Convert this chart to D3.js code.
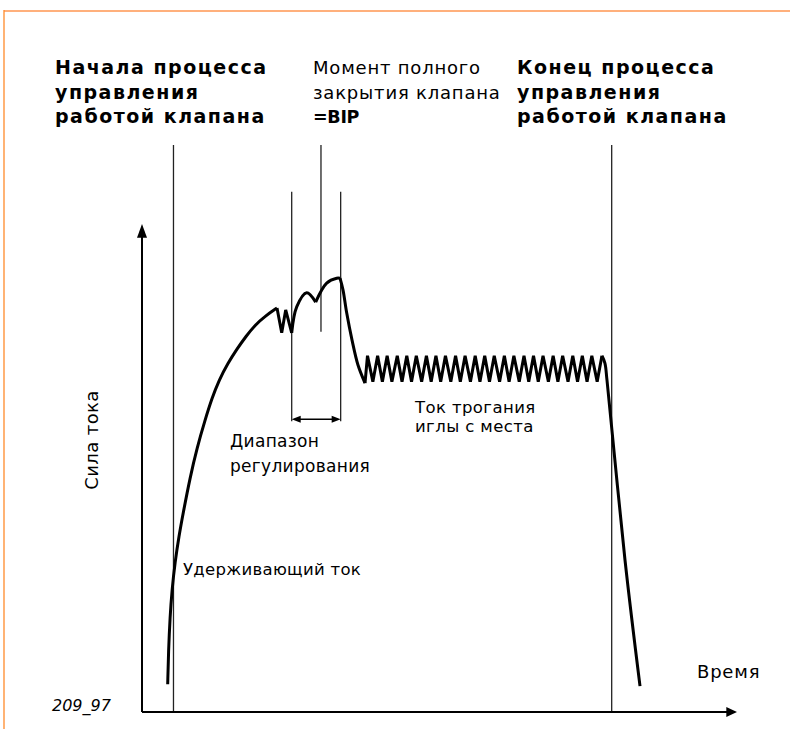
<!DOCTYPE html>
<html>
<head>
<meta charset="utf-8">
<script src="https://cdn.jsdelivr.net/npm/d3@7"></script>
<style>
  html, body { margin: 0; padding: 0; background: #fff; }
  svg { display: block; }
  .bold { font-family: "DejaVu Sans", sans-serif; font-weight: bold; }
  .reg { font-family: "DejaVu Sans", sans-serif; font-weight: normal; }
</style>
</head>
<body>
<svg id="chart" width="790" height="729"></svg>
<script>
// Injector valve current profile: time (relative units) vs. coil current (relative units)

// Pull-in ramp
const riseTime    = [4.32, 4.45, 4.71, 5.04, 5.55, 6.22, 6.89, 8.07, 9.24, 10.59, 11.76, 12.94, 14.45, 15.97, 17.48, 19.0, 20.67, 22.69];
const riseCurrent = [5.7, 12.3, 19.5, 25.0, 30.7, 36.1, 40.6, 48.0, 54.1, 59.8, 64.3, 68.0, 71.5, 74.4, 77.0, 79.3, 81.1, 82.8];

// Regulation notch (W shape)
const notchTime    = [22.69, 23.48, 24.15, 25.16];
const notchCurrent = [82.8, 77.7, 82.4, 77.7];

// First arch after the notch
const arch1Time    = [25.16, 26.0, 27.68, 29.19];
const arch1Current = [77.7, 83.0, 85.9, 84.0];

// Second arch up to full valve closure peak
const arch2Time    = [29.19, 31.04, 32.72, 33.28];
const arch2Current = [84.0, 87.9, 88.9, 88.9];

// Decay to holding level
const decayTime    = [33.28, 33.78, 34.4, 35.3, 36.3, 37.48];
const decayCurrent = [88.9, 86.5, 81.8, 76.2, 71.1, 67.4];

// Chopped holding current
const holdTime = [37.48,
  37.9, 38.8, 39.6, 40.4, 41.2, 42.0, 42.9, 43.7, 44.5, 45.3, 46.1, 47.0,
  47.8, 48.6, 49.4, 50.2, 51.0, 51.9, 52.7, 53.5, 54.3, 55.2, 56.0, 56.8,
  57.6, 58.4, 59.2, 60.1, 60.9, 61.7, 62.5, 63.4, 64.2, 65.0, 65.8, 66.6,
  67.4, 68.3, 69.1, 69.9, 70.7, 71.6, 72.4, 73.2, 74.0, 74.8, 75.6, 76.5, 77.3];
const holdCurrent = [67.4,
  73.0, 67.7, 73.0, 67.7, 73.0, 67.7, 73.0, 67.7, 73.0, 67.7, 73.0, 67.7,
  73.0, 67.7, 73.0, 67.7, 73.0, 67.7, 73.0, 67.7, 73.0, 67.7, 73.0, 67.7,
  73.0, 67.7, 73.0, 67.7, 73.0, 67.7, 73.0, 67.7, 73.0, 67.7, 73.0, 67.7,
  73.0, 67.7, 73.0, 67.7, 73.0, 67.7, 73.0, 67.7, 73.0, 67.7, 73.0, 67.7, 73.0];

// Switch-off
const fallTime    = [77.3, 77.8, 78.15, 81.18, 83.7];
const fallCurrent = [73.0, 71.5, 68.0, 31.1, 5.3];

// Event markers (time)
const eventTimes  = [5.29, 25.16, 30.08, 33.39, 78.94];

const axisLabels = { y: "Сила тока", x: "Время" };
const figureId = "209_97";

const svg = d3.select("#chart");
const W = 790, H = 729;

const x = d3.scaleLinear().domain([0, 100]).range([142, 737]);
const y = d3.scaleLinear().domain([0, 100]).range([712, 224]);

const zip = (ts, cs) => ts.map((t, i) => [t, cs[i]]);

// frame
svg.append("line").attr("x1", 4).attr("x2", W).attr("y1", 11).attr("y2", 11)
  .attr("stroke", "#ffb07c").attr("stroke-width", 2);
svg.append("line").attr("x1", 4).attr("x2", 4).attr("y1", 10).attr("y2", H)
  .attr("stroke", "#ff8a2a").attr("stroke-width", 1.3);

// event markers: [time, top current, bottom current]
const markerSpans = [
  [eventTimes[0], 116.2, 0],
  [eventTimes[1], 106.6, 59.6],
  [eventTimes[2], 116.2, 77.9],
  [eventTimes[3], 106.6, 59.6],
  [eventTimes[4], 116.2, 0]
];
svg.append("g").selectAll("line").data(markerSpans).join("line")
  .attr("x1", d => x(d[0])).attr("x2", d => x(d[0]))
  .attr("y1", d => y(d[1])).attr("y2", d => y(d[2]))
  .attr("stroke", "#222").attr("stroke-width", 1.3);

// axes
const axisG = svg.append("g");
axisG.append("line").attr("x1", x(0)).attr("x2", x(0)).attr("y1", y(0)).attr("y2", y(97.5))
  .attr("stroke", "#000").attr("stroke-width", 2);
axisG.append("path")
  .attr("d", `M${x(0)},${y(100)} L${x(0) - 5},${y(97.2)} L${x(0) + 5},${y(97.2)} Z`)
  .attr("fill", "#000");
axisG.append("line").attr("x1", x(0)).attr("x2", x(98.4)).attr("y1", y(0)).attr("y2", y(0))
  .attr("stroke", "#000").attr("stroke-width", 2);
axisG.append("path")
  .attr("d", `M${x(100)},${y(0)} L${x(98.2)},${y(0) - 5} L${x(98.2)},${y(0) + 5} Z`)
  .attr("fill", "#000");

// regulation range arrow
const rangeY = y(60.0);
const ra = x(eventTimes[1]), rb = x(eventTimes[3]);
axisG.append("line").attr("x1", ra + 3).attr("x2", rb - 3).attr("y1", rangeY).attr("y2", rangeY)
  .attr("stroke", "#000").attr("stroke-width", 1.4);
axisG.append("path")
  .attr("d", `M${ra},${rangeY} L${ra + 9},${rangeY - 3.5} L${ra + 9},${rangeY + 3.5} Z M${rb},${rangeY} L${rb - 9},${rangeY - 3.5} L${rb - 9},${rangeY + 3.5} Z`)
  .attr("fill", "#000");

// current curve
const smooth = d3.line().x(d => x(d[0])).y(d => y(d[1])).curve(d3.curveCatmullRom.alpha(0.5));
const basis  = d3.line().x(d => x(d[0])).y(d => y(d[1])).curve(d3.curveBasis);
const sharp  = d3.line().x(d => x(d[0])).y(d => y(d[1])).curve(d3.curveLinear);
const segs = [
  [zip(riseTime, riseCurrent), basis],
  [zip(notchTime, notchCurrent), sharp],
  [zip(arch1Time, arch1Current), smooth],
  [zip(arch2Time, arch2Current), smooth],
  [zip(decayTime, decayCurrent), smooth],
  [zip(holdTime, holdCurrent), sharp],
  [zip(fallTime, fallCurrent), smooth]
];
const curveG = svg.append("g");
segs.forEach(([pts, gen]) => {
  curveG.append("path").attr("d", gen(pts))
    .attr("fill", "none").attr("stroke", "#000").attr("stroke-width", 3)
    .attr("stroke-linejoin", "miter").attr("stroke-miterlimit", 3).attr("stroke-linecap", "butt");
});

// text
function block(lines, x0, y0, lh, cls, size, ls) {
  lines.forEach((ln, i) => {
    const t = svg.append("text").attr("x", x0).attr("y", y0 + i * lh)
      .attr("font-size", size).attr("fill", "#000");
    ln.forEach(([str, c, l, fs]) => {
      const s = t.append("tspan").attr("class", c || cls).text(str);
      s.attr("letter-spacing", l !== undefined ? l : ls);
      if (fs) s.attr("font-size", fs);
    });
  });
}
block([[["Начала процесса"]], [["управления"]], [["работой клапана"]]], 55, 74, 24.5, "bold", 19, 1.5);
block([[["Момент полного"]], [["закрытия клапана"]], [["=BIP", "bold", -0.3, 17.5]]], 313, 74, 24.5, "reg", 18, 0.8);
block([[["Конец процесса"]], [["управления"]], [["работой клапана"]]], 517, 74, 24.5, "bold", 19, 1.5);
block([[["Диапазон"]], [["регулирования"]]], 230, 447, 25, "reg", 17, 0.3);
block([[["Ток трогания"]], [["иглы с места"]]], 415, 413, 18.5, "reg", 16.5, 0.4);
block([[["Удерживающий ток"]]], 183, 575, 18, "reg", 16.5, 0.3);
block([[[axisLabels.x]]], 697, 678, 18, "reg", 18, 0.8);

svg.append("text").attr("class", "reg").attr("font-size", 18)
  .attr("transform", "translate(98,440) rotate(-90)")
  .attr("text-anchor", "middle").attr("letter-spacing", 0.4).text(axisLabels.y);

svg.append("text").attr("class", "reg").attr("font-size", 16).attr("font-style", "italic")
  .attr("x", 52).attr("y", 711).text(figureId);
</script>
</body>
</html>
